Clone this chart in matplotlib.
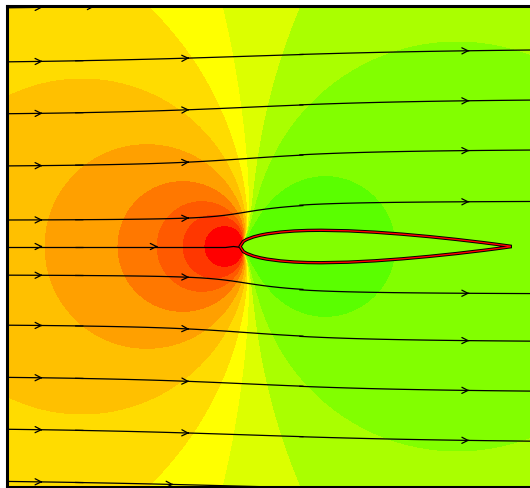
import numpy as np
import matplotlib.pyplot as plt
from matplotlib.path import Path

# NACA 0012 ordinates (Abbott & von Doenhoff), chord = 1
naca_x = [0.0, 0.0125, 0.025, 0.05, 0.075, 0.1, 0.15, 0.2, 0.25, 0.3,
          0.4, 0.5, 0.6, 0.7, 0.8, 0.9, 0.95, 1.0]
naca_yt = [0.0, 0.01894, 0.02615, 0.03555, 0.04200, 0.04683, 0.05345, 0.05737,
           0.05941, 0.06002, 0.05803, 0.05294, 0.04563, 0.03664, 0.02623,
           0.01448, 0.00807, 0.00126]
u_inf = 1.0

# band edges (chord units, leading edge at 0,0),
# listed from most negative Cp (green, beside the body) to the stagnation red
edge_x = [0.407, 0.667, 0.222, -0.067, -0.344, -0.863, -0.722, -0.452, -0.307, -0.211, -0.130]
edge_y = [0.246, 0.748, 0.891, 0.891, 0.891, 0.554, 0.0, 0.0, 0.0, 0.0, 0.0]
band_colours = ["#5aff00", "#82ff00", "#aaff00", "#dcff00", "#ffff00", "#ffdc00",
                "#ffc000", "#ffa000", "#ff7800", "#ff5a00", "#ff3700", "#ff0000"]
body_colour = "#82ff00"

# streamline seeds on the left edge
seed_y = [0.883, 0.683, 0.491, 0.298, 0.098, 0.0, -0.106, -0.291, -0.484, -0.676, -0.869]
# streamplot pieces (one arrow per piece, like a broken streamplot)
segment_x = [-0.863, -0.61, 0.205, 1.47]
segment_pad = 0.03  # pieces overlap a little so the joins don't show

x_lim = (segment_x[0], segment_x[-1])
y_lim = (-0.89, 0.89)


def build_panels():
    xs = np.array(naca_x)
    yt = np.array(naca_yt)
    # counter-clockwise: TE -> upper -> LE -> lower -> TE
    px = np.concatenate([xs[::-1], xs[1:]])
    py = np.concatenate([yt[::-1], -yt[1:]])
    return px, py


def panel_velocity(px, py, xp, yp):
    """Velocity at (xp, yp) induced by unit-strength source panels."""
    xa, ya, xb, yb = px[:-1], py[:-1], px[1:], py[1:]
    L = np.hypot(xb - xa, yb - ya)
    dx, dy = (xb - xa) / L, (yb - ya) / L
    nx, ny = dy, -dx
    rx = xp[..., None] - xa
    ry = yp[..., None] - ya
    xi = rx * dx + ry * dy
    eta = rx * nx + ry * ny
    ud = 0.5 * np.log((xi**2 + eta**2) / ((xi - L)**2 + eta**2))
    vn = np.arctan2(eta, xi - L) - np.arctan2(eta, xi)
    u = (ud * dx + vn * nx) / (2 * np.pi)
    v = (ud * dy + vn * ny) / (2 * np.pi)
    return u, v


px, py = build_panels()
body = Path(np.column_stack([px, py]))
xc = 0.5 * (px[:-1] + px[1:])
yc = 0.5 * (py[:-1] + py[1:])
plen = np.hypot(np.diff(px), np.diff(py))
nxp, nyp = np.diff(py) / plen, -np.diff(px) / plen

eps = 1e-7
uu, vv = panel_velocity(px, py, xc + eps * nxp, yc + eps * nyp)
A = uu * nxp[:, None] + vv * nyp[:, None]
sigma = np.linalg.solve(A, -u_inf * nxp)
# open body: keep only the source (displacement) part of the sheet
sigma = np.clip(sigma, 0, None)


def flow(xp, yp):
    ug, vg = panel_velocity(px, py, xp, yp)
    U = u_inf + ug @ sigma
    V = vg @ sigma
    return U, V, 1 - (U**2 + V**2) / u_inf**2


def masked_flow(gx, gy):
    X, Y = np.meshgrid(gx, gy)
    U, V, cp = flow(X, Y)
    inside = body.contains_points(np.column_stack([X.ravel(), Y.ravel()]),
                                  radius=-0.004).reshape(X.shape)
    return X, Y, np.ma.masked_where(inside, U), np.ma.masked_where(inside, V), cp


def seeds_at_breaks():
    """Follow each seed (dy/dx = V/U) and return its height at every piece boundary."""
    y = np.array(seed_y, dtype=float)
    alive = np.ones_like(y, dtype=bool)
    out = [y.copy()]
    h = 0.002

    def slope(xv, yv):
        U, V, _ = flow(np.full_like(yv, xv), yv)
        return V / np.where(U > 0.05, U, np.nan)

    for x0, x1 in zip(segment_x[:-1], segment_x[1:]):
        n = int(np.ceil((x1 - x0) / h))
        step = (x1 - x0) / n
        x = x0
        for _ in range(n):
            k1 = slope(x, y)
            k2 = slope(x + step / 2, y + step / 2 * k1)
            k3 = slope(x + step / 2, y + step / 2 * k2)
            k4 = slope(x + step, y + step * k3)
            y = y + step / 6 * (k1 + 2 * k2 + 2 * k3 + k4)
            x += step
            bad = ~np.isfinite(y) | body.contains_points(np.column_stack([np.full_like(y, x), y]))
            alive &= ~bad
            y = np.where(np.isfinite(y), y, 0.0)
        out.append(np.where(alive, y, np.nan))
    return out


gx = np.linspace(x_lim[0], x_lim[1], 230)
gy = np.linspace(y_lim[0], y_lim[1], 170)
X, Y, _, _, cp = masked_flow(gx, gy)

levels = np.sort(flow(np.array(edge_x), np.array(edge_y))[2])

fig = plt.figure(figsize=(5.30, 4.88), dpi=100)
ax = fig.add_axes([7 / 530, 1 / 488, (637 - 7) / 530, 481 / 488])
ax.contourf(X, Y, cp, levels=levels, colors=band_colours, extend="both")
ax.fill(px, py, color=body_colour, zorder=2)

# streamlines, drawn piece by piece so each piece carries its own arrow
heights = seeds_at_breaks()
for k, (x0, x1) in enumerate(zip(segment_x[:-1], segment_x[1:])):
    ys = heights[k]
    ys = ys[np.isfinite(ys) & (ys > y_lim[0] + 1e-3) & (ys < y_lim[1] - 1e-3)]
    if not len(ys):
        continue
    a, b = x0 - segment_pad, x1 + segment_pad
    sx = np.linspace(a, b, max(int((b - a) / 0.01), 2) + 1)
    _, _, Us, Vs, _ = masked_flow(sx, gy)
    starts = np.column_stack([np.full_like(ys, a + 1e-4), ys])
    ax.streamplot(sx, gy, Us, Vs, start_points=starts, integration_direction="forward",
                  broken_streamlines=False, color="black", linewidth=0.9,
                  arrowsize=1.1, arrowstyle="->", zorder=3)

ax.plot(px, py, color="black", linewidth=2.4, zorder=4)
ax.plot(px, py, color="red", linewidth=1.0, zorder=5)
ax.set_xlim(*x_lim)
ax.set_ylim(*y_lim)
ax.set_xticks([])
ax.set_yticks([])
for side in ax.spines.values():
    side.set_linewidth(2.2)
fig.savefig("out.png", dpi=100)
